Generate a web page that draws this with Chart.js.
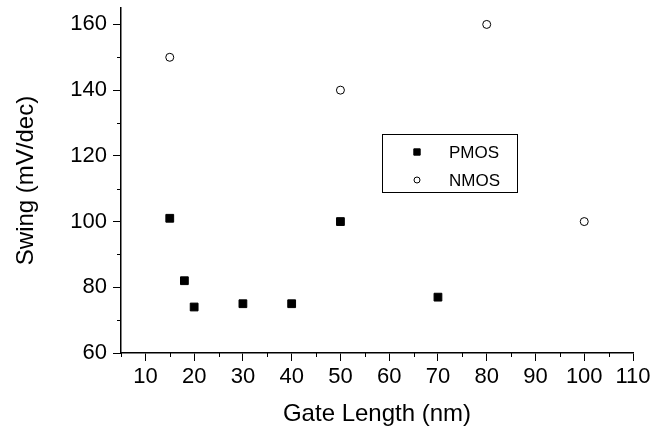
<!DOCTYPE html>
<html>
  <head>
    <title>Swing vs Gate Length</title>
    <script src="https://cdn.jsdelivr.net/npm/chart.js"></script>
    <style>
      body {
        margin: 0;
        background: #fff;
      }
    </style>
  </head>
  <body>
    <canvas id="myChart" width="667" height="430"></canvas>
    <script>
      // data
      const pmosLength = [15, 18, 20, 30, 40, 50, 70];
      const pmosSwing = [101, 82, 74, 75, 75, 100, 77];
      const nmosLength = [15, 50, 80, 100];
      const nmosSwing = [150, 140, 160, 100];

      const xTicks = [10, 20, 30, 40, 50, 60, 70, 80, 90, 100, 110];
      const xMinor = [5, 15, 25, 35, 45, 55, 65, 75, 85, 95, 105];
      const yTicks = [60, 80, 100, 120, 140, 160];
      const yMinor = [70, 90, 110, 130, 150];

      const fontFamily = "'Liberation Sans', Arial, sans-serif";

      // minor tick marks + legend box inside the plot
      const extras = {
        id: "extras",
        afterDraw(chart) {
          const ctx = chart.ctx;
          const x = chart.scales.x;
          const y = chart.scales.y;
          const area = chart.chartArea;
          ctx.save();
          ctx.strokeStyle = "#000";
          ctx.lineWidth = 1;
          ctx.beginPath();
          xMinor.forEach((v) => {
            const px = Math.round(x.getPixelForValue(v)) + 0.5;
            ctx.moveTo(px, area.bottom);
            ctx.lineTo(px, area.bottom + 4);
          });
          yMinor.forEach((v) => {
            const py = Math.round(y.getPixelForValue(v)) + 0.5;
            ctx.moveTo(area.left - 4, py);
            ctx.lineTo(area.left, py);
          });
          ctx.stroke();

          // legend
          ctx.strokeRect(382.5, 134.5, 135, 58);
          ctx.font = "17px " + fontFamily;
          ctx.textBaseline = "middle";
          const rows = [152, 180];
          chart.data.datasets.forEach((ds, i) => {
            ctx.fillStyle = ds.backgroundColor;
            ctx.strokeStyle = ds.borderColor;
            ctx.lineWidth = ds.borderWidth;
            Chart.helpers.drawPoint(
              ctx,
              { pointStyle: ds.pointStyle, radius: ds.legendRadius, borderWidth: ds.borderWidth },
              417,
              rows[i]
            );
            ctx.fillStyle = "#000";
            ctx.fillText(ds.label, 449, rows[i] + 1);
          });
          ctx.restore();
        },
      };

      const ctx = document.getElementById("myChart").getContext("2d");
      const chart = new Chart(ctx, {
        type: "scatter",
        data: {
          datasets: [
            {
              label: "PMOS",
              data: pmosLength.map((v, i) => ({ x: v, y: pmosSwing[i] })),
              pointStyle: "rect",
              pointRadius: 5.5,
              legendRadius: 4.5,
              backgroundColor: "#000",
              borderColor: "#000",
              borderWidth: 1,
            },
            {
              label: "NMOS",
              data: nmosLength.map((v, i) => ({ x: v, y: nmosSwing[i] })),
              pointStyle: "circle",
              pointRadius: 4,
              legendRadius: 3,
              backgroundColor: "#fff",
              borderColor: "#000",
              borderWidth: 1,
            },
          ],
        },
        options: {
          responsive: false,
          animation: false,
          layout: {
            padding: { left: 0, right: 34, top: 8, bottom: 0 },
          },
          plugins: {
            legend: { display: false },
            tooltip: { enabled: false },
          },
          scales: {
            x: {
              type: "linear",
              min: 5,
              max: 110,
              afterBuildTicks: (s) => {
                s.ticks = xTicks.map((v) => ({ value: v }));
              },
              afterFit: (s) => {
                s.height = 77;
                s.paddingLeft = 0;
                s.paddingRight = 0;
              },
              grid: {
                drawOnChartArea: false,
                tickLength: 8,
                color: "#000",
              },
              border: { display: true, color: "#000", width: 1.5 },
              ticks: {
                color: "#000",
                padding: 3,
                maxRotation: 0,
                autoSkip: false,
                font: { family: fontFamily, size: 22 },
              },
              title: {
                display: true,
                text: "Gate Length (nm)",
                color: "#000",
                padding: { top: 0, bottom: 1 },
                font: { family: fontFamily, size: 24 },
              },
            },
            y: {
              type: "linear",
              min: 60,
              max: 165,
              afterBuildTicks: (s) => {
                s.ticks = yTicks.map((v) => ({ value: v }));
              },
              afterFit: (s) => {
                s.width = 121;
                s.paddingTop = 0;
                s.paddingBottom = 0;
              },
              grid: {
                drawOnChartArea: false,
                tickLength: 8,
                color: "#000",
              },
              border: { display: true, color: "#000", width: 1.5 },
              ticks: {
                color: "#000",
                padding: 6,
                autoSkip: false,
                font: { family: fontFamily, size: 22 },
              },
              title: {
                display: true,
                text: "Swing (mV/dec)",
                color: "#000",
                padding: { top: 12, bottom: 0 },
                font: { family: fontFamily, size: 24 },
              },
            },
          },
        },
        plugins: [extras],
      });
    </script>
  </body>
</html>
